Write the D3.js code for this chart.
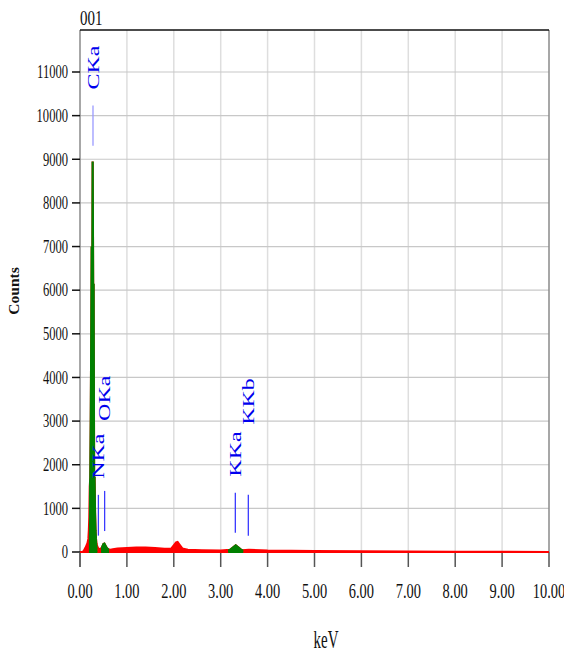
<!DOCTYPE html>
<html>
<head>
<meta charset="utf-8">
<script src="https://cdn.jsdelivr.net/npm/d3@7"></script>
<style>
  body { margin: 0; background: white; }
  text { font-family: "Liberation Serif", "Times New Roman", serif; }
</style>
</head>
<body>
<div id="container"></div>
<script>
let w = 564;
let h = 653;

// spectrum (keV, counts)
let energy = [0.00, 0.05, 0.08, 0.10, 0.12, 0.14, 0.16, 0.18, 0.19, 0.20, 0.21, 0.22, 0.23, 0.24, 0.25, 0.26, 0.27, 0.28, 0.29, 0.30,
  0.31, 0.32, 0.33, 0.34, 0.35, 0.36, 0.38, 0.40, 0.42, 0.45, 0.48, 0.50, 0.52, 0.54, 0.57, 0.60, 0.65, 0.70, 0.80, 1.00,
  1.20, 1.40, 1.60, 1.80, 1.95, 2.00, 2.05, 2.08, 2.12, 2.18, 2.30, 2.60, 3.00, 3.20, 3.28, 3.32, 3.38, 3.45, 3.60, 4.00,
  5.00, 6.00, 8.00, 10.00];
let counts = [0, 0, 20, 60, 100, 150, 200, 300, 500, 800, 1500, 1700, 3000, 4900, 7000, 5000, 8950, 6000, 6150, 1700,
  1700, 900, 500, 300, 200, 150, 100, 70, 60, 80, 130, 180, 190, 150, 90, 60, 50, 60, 80, 90,
  100, 100, 90, 70, 80, 150, 220, 230, 170, 80, 50, 40, 30, 50, 120, 150, 100, 40, 50, 30,
  20, 15, 5, 0];

// regions of interest shown in green
let roiStart = [0.19, 0.45, 3.16];
let roiEnd = [0.37, 0.62, 3.48];

// element markers
let markerNames = ["CKa", "NKa", "OKa", "KKa", "KKb"];
let markerKeV = [0.277, 0.392, 0.525, 3.312, 3.589];
let markerTop = [10230, 1310, 1400, 1360, 1310];
let markerBottom = [9310, 375, 480, 440, 375];
let markerLevel = [0, 0, 1, 0, 1];

let xTicks = [0, 1, 2, 3, 4, 5, 6, 7, 8, 9, 10];
let yTicks = [0, 1000, 2000, 3000, 4000, 5000, 6000, 7000, 8000, 9000, 10000, 11000];

let plotTop = 30;
let plotBottom = 567;

let x = d3.scaleLinear().domain([0, 10]).range([80, 549]);
let y = d3.scaleLinear().domain([0, 11000]).range([552, 72]);

let viz = d3.select("#container").append("svg")
    .attr("width", w)
    .attr("height", h)
    .style("display", "block");

// grid
viz.selectAll(".vgrid").data(xTicks.slice(1, -1)).enter()
  .append("line")
    .attr("x1", d => x(d)).attr("x2", d => x(d))
    .attr("y1", plotTop).attr("y2", y(0))
    .attr("stroke", "#dedede").attr("stroke-width", 1.5);

viz.selectAll(".hgrid").data(yTicks.slice(1)).enter()
  .append("line")
    .attr("x1", x(0)).attr("x2", x(10))
    .attr("y1", d => y(d)).attr("y2", d => y(d))
    .attr("stroke", "#c8c8c8").attr("stroke-width", 1.2);

// frame
viz.append("line").attr("x1", x(0)).attr("x2", x(0)).attr("y1", plotTop).attr("y2", plotBottom)
  .attr("stroke", "#8a8a8a").attr("stroke-width", 1.5);
viz.append("line").attr("x1", x(10)).attr("x2", x(10)).attr("y1", plotTop).attr("y2", y(0))
  .attr("stroke", "#8a8a8a").attr("stroke-width", 1.5);
viz.append("line").attr("x1", x(0)).attr("x2", x(10)).attr("y1", plotTop).attr("y2", plotTop)
  .attr("stroke", "#111").attr("stroke-width", 1.5);

// ticks
viz.selectAll(".ytick").data(yTicks).enter()
  .append("line")
    .attr("x1", 72).attr("x2", x(0))
    .attr("y1", d => y(d)).attr("y2", d => y(d))
    .attr("stroke", "#111").attr("stroke-width", 1.5);

viz.selectAll(".xtick").data(xTicks).enter()
  .append("line")
    .attr("x1", d => x(d)).attr("x2", d => x(d))
    .attr("y1", y(0)).attr("y2", plotBottom)
    .attr("stroke", "#555").attr("stroke-width", 1.5);

viz.selectAll(".ylab").data(yTicks).enter()
  .append("text")
    .attr("transform", d => "translate(68," + y(d) + ") scale(0.68,1)")
    .attr("text-anchor", "end")
    .attr("dy", "0.34em")
    .attr("font-size", 18.5)
    .attr("fill", "#111")
    .text(d => d);

viz.selectAll(".xlab").data(xTicks).enter()
  .append("text")
    .attr("transform", d => "translate(" + x(d) + ",598) scale(0.72,1)")
    .attr("text-anchor", "middle")
    .attr("font-size", 20)
    .attr("fill", "#111")
    .text(d => d.toFixed(2));

// spectrum
let spectrum = energy.map((e, i) => ({ e: e, c: counts[i] }));
let areaMaker = d3.area()
    .x(d => x(d.e))
    .y0(y(0))
    .y1(d => y(d.c));

viz.append("path")
    .datum(spectrum)
    .attr("d", areaMaker)
    .attr("fill", "#ff0000")
    .attr("stroke", "#ff0000")
    .attr("stroke-width", 2.2);

let clip = viz.append("clipPath").attr("id", "roi");
clip.selectAll("rect").data(roiStart).enter()
  .append("rect")
    .attr("x", d => x(d))
    .attr("width", (d, i) => x(roiEnd[i]) - x(d))
    .attr("y", plotTop)
    .attr("height", y(0) - plotTop + 2);

viz.append("path")
    .datum(spectrum)
    .attr("d", areaMaker)
    .attr("fill", "#008000")
    .attr("stroke", "#008000")
    .attr("stroke-width", 2.2)
    .attr("clip-path", "url(#roi)");

// markers
viz.selectAll(".mline").data(markerNames).enter()
  .append("line")
    .attr("x1", (d, i) => x(markerKeV[i])).attr("x2", (d, i) => x(markerKeV[i]))
    .attr("y1", (d, i) => y(markerTop[i])).attr("y2", (d, i) => y(markerBottom[i]))
    .attr("stroke", (d, i) => i == 0 ? "#9a9aff" : "#3a3aff")
    .attr("stroke-width", 1.3);

viz.selectAll(".mlab").data(markerNames).enter()
  .append("text")
    .attr("transform", (d, i) => "translate(" + x(markerKeV[i]) + "," + (y(markerTop[i]) - 16 - markerLevel[i] * 54) + ") scale(0.7,1) rotate(-90)")
    .attr("dy", "0.33em")
    .attr("font-size", 24)
    .attr("fill", "#0000ee")
    .text(d => d);

// titles
viz.append("text")
    .attr("transform", "translate(80,25) scale(0.68,1)")
    .attr("font-size", 22)
    .attr("fill", "#111")
    .text("001");

viz.append("text")
    .attr("transform", "translate(326,648) scale(0.6,1)")
    .attr("text-anchor", "middle")
    .attr("font-size", 25)
    .attr("fill", "#111")
    .text("keV");

viz.append("text")
    .attr("transform", "translate(19,291) rotate(-90)")
    .attr("text-anchor", "middle")
    .attr("font-size", 15.5)
    .attr("font-weight", "bold")
    .attr("fill", "#111")
    .text("Counts");
</script>
</body>
</html>
